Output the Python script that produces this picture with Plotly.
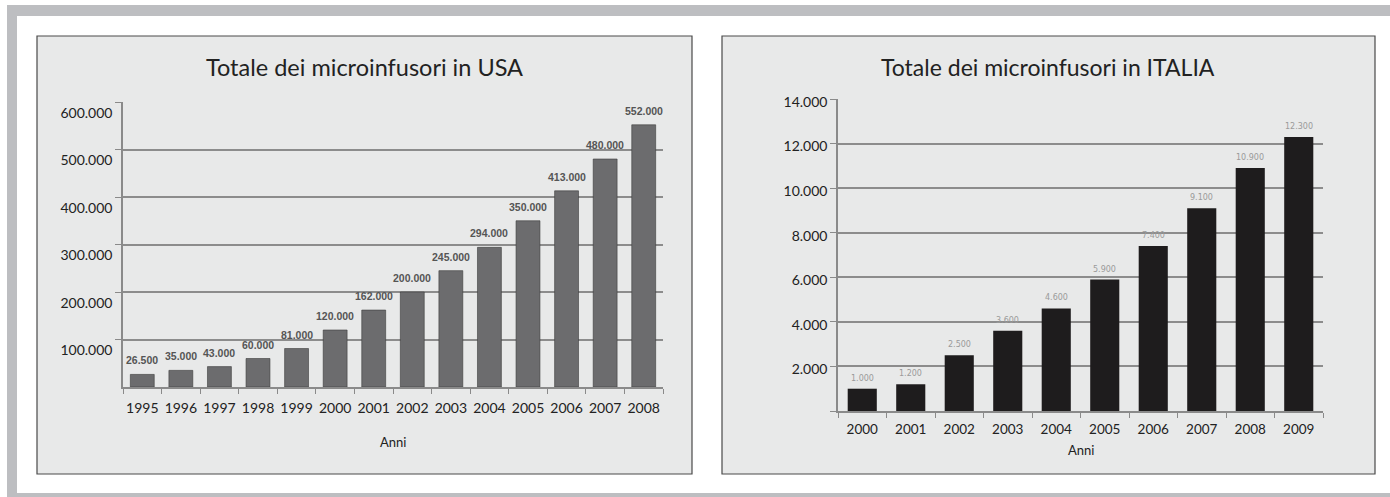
import plotly.graph_objects as go

# ---- data ----
usa_years = ["1995", "1996", "1997", "1998", "1999", "2000", "2001",
             "2002", "2003", "2004", "2005", "2006", "2007", "2008"]
usa_values = [26500, 35000, 43000, 60000, 81000, 120000, 162000,
              200000, 245000, 294000, 350000, 413000, 480000, 552000]
usa_ticks = [100000, 200000, 300000, 400000, 500000, 600000]

ita_years = ["2000", "2001", "2002", "2003", "2004",
             "2005", "2006", "2007", "2008", "2009"]
ita_values = [1000, 1200, 2500, 3600, 4600, 5900, 7400, 9100, 10900, 12300]
ita_ticks = [0, 2000, 4000, 6000, 8000, 10000, 12000, 14000]

title_usa = "Totale dei microinfusori in USA"
title_ita = "Totale dei microinfusori in ITALIA"
axis_title = "Anni"

W, H = 1390, 497
FONT = "Lato"


def px(x):
    return x / W


def py(y):
    return 1 - y / H


def fmt(v):
    return f"{v:,}".replace(",", ".")


fig = go.Figure()

fig.add_trace(go.Bar(
    x=usa_years, y=usa_values, xaxis="x", yaxis="y",
    marker=dict(color="#6c6c6e", line=dict(color="#3c3c3c", width=0.6)),
    width=0.62, hoverinfo="x+y", showlegend=False))

fig.add_trace(go.Bar(
    x=ita_years, y=ita_values, xaxis="x2", yaxis="y2",
    marker=dict(color="#1e1c1d", line=dict(width=0)),
    width=0.6, hoverinfo="x+y", showlegend=False))

annotations = []
# category axes: annotation x uses the category serial number
for i, yv in enumerate(usa_values):
    annotations.append(dict(
        x=i, y=yv, xref="x", yref="y", text=fmt(yv),
        showarrow=False, yanchor="bottom", yshift=6,
        font=dict(family="Liberation Sans", size=10.5, color="#555555", weight="bold")))
for i, yv in enumerate(ita_values):
    annotations.append(dict(
        x=i, y=yv, xref="x2", yref="y2", text=fmt(yv),
        showarrow=False, yanchor="bottom", yshift=4,
        font=dict(family="DejaVu Sans", size=8, color="#9a9a9a")))

# titles and axis titles
annotations += [
    dict(x=px(364), y=py(67), xref="paper", yref="paper", text=title_usa,
         showarrow=False, xanchor="center", yanchor="middle",
         font=dict(family=FONT, size=23.5, color="#222")),
    dict(x=px(1048), y=py(67), xref="paper", yref="paper", text=title_ita,
         showarrow=False, xanchor="center", yanchor="middle",
         font=dict(family=FONT, size=23, color="#222")),
    dict(x=px(393), y=py(442), xref="paper", yref="paper", text=axis_title,
         showarrow=False, xanchor="center", yanchor="middle",
         font=dict(family=FONT, size=13, color="#222")),
    dict(x=px(1081), y=py(450), xref="paper", yref="paper", text=axis_title,
         showarrow=False, xanchor="center", yanchor="middle",
         font=dict(family=FONT, size=13, color="#222")),
]

shapes = [
    # outer gray frame bands
    dict(type="rect", xref="paper", yref="paper", x0=px(7), x1=1, y0=py(16), y1=py(5),
         fillcolor="#bdbec1", line=dict(width=0), layer="below"),
    dict(type="rect", xref="paper", yref="paper", x0=px(7), x1=px(17), y0=0, y1=py(5),
         fillcolor="#bdbec1", line=dict(width=0), layer="below"),
    dict(type="rect", xref="paper", yref="paper", x0=px(7), x1=1, y0=0, y1=py(493),
         fillcolor="#bdbec1", line=dict(width=0), layer="below"),
    # panels
    dict(type="rect", xref="paper", yref="paper", x0=px(37), x1=px(692), y0=py(474), y1=py(36),
         fillcolor="#e8e9e9", line=dict(color="#4a4a4a", width=1.2), layer="below"),
    dict(type="rect", xref="paper", yref="paper", x0=px(722), x1=px(1375), y0=py(474), y1=py(36),
         fillcolor="#e8e9e9", line=dict(color="#4a4a4a", width=1.2), layer="below"),
    # white margin at right edge
    dict(type="rect", xref="paper", yref="paper", x0=px(1377), x1=1, y0=py(493), y1=py(16),
         fillcolor="white", line=dict(width=0), layer="above"),
]

tickfont = dict(family=FONT, size=14, color="#222")

fig.update_layout(
    width=W, height=H, margin=dict(l=0, r=0, t=0, b=0, autoexpand=False),
    paper_bgcolor="white", plot_bgcolor="white",
    separators=",.", bargap=0.38,
    annotations=annotations, shapes=shapes, showlegend=False,
    xaxis=dict(domain=[px(123), px(663)], type="category",
               range=[-0.5, len(usa_years) - 0.5],
               showline=True, linecolor="#8a8a8a", linewidth=1.5,
               ticks="outside", tickson="boundaries", ticklen=5, tickcolor="#8a8a8a",
               tickfont=dict(family=FONT, size=14, color="#222"), tickangle=0,
               ticklabelstandoff=7,
               showgrid=False, fixedrange=True),
    yaxis=dict(domain=[py(387), py(102)], range=[0, 600000],
               tickvals=usa_ticks, tickformat=",d",
               showline=True, linecolor="#8a8a8a", linewidth=1.5,
               ticks="outside", ticklen=6, tickcolor="#8a8a8a",
               showgrid=True, gridcolor="#8c8c8c", gridwidth=1.5,
               zeroline=False, tickfont=tickfont,
               ticklabelshift=11, fixedrange=True),
    xaxis2=dict(domain=[px(838), px(1323)], type="category", anchor="y2",
                range=[-0.5, len(ita_years) - 0.5],
                showline=True, linecolor="#8a8a8a", linewidth=1.5,
                ticks="outside", tickson="boundaries", ticklen=5, tickcolor="#8a8a8a",
                tickfont=dict(family=FONT, size=13.5, color="#222"), tickangle=0,
                ticklabelstandoff=5,
                showgrid=False, fixedrange=True),
    yaxis2=dict(domain=[py(411), py(99)], range=[0, 14000], anchor="x2",
                tickvals=ita_ticks,
                ticktext=["" if v == 0 else fmt(v) for v in ita_ticks],
                showline=True, linecolor="#8a8a8a", linewidth=1.5,
                ticks="outside", ticklen=6, tickcolor="#8a8a8a",
                showgrid=True, gridcolor="#8c8c8c", gridwidth=1.5,
                zeroline=False, tickfont=tickfont,
                ticklabelshift=3, fixedrange=True),
)

fig.write_html(
    "out.html", config={"displayModeBar": False},
    post_script=("document.body.style.margin='0';"
                 "document.body.style.overflow='hidden';"
                 "document.documentElement.style.overflow='hidden';"))
